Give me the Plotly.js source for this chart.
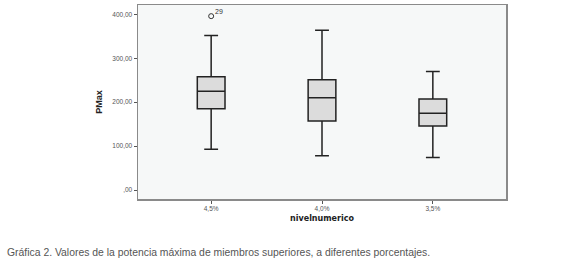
<!DOCTYPE html>
<html>
<head>
<meta charset="utf-8">
<script src="https://cdn.plot.ly/plotly-3.0.1.min.js"></script>
<style>html,body{margin:0;padding:0;background:#fff;}#chart{width:580px;height:262px;}</style>
</head>
<body>
<div id="chart"></div>
<script>
const categories = ["4,5%", "4,0%", "3,5%"];
const lowerWhisker = [93, 78, 74];
const q1Values = [185, 157, 146];
const medianValues = [225, 210, 175];
const q3Values = [258, 251, 207];
const upperWhisker = [352, 364, 270];
const outlierCategory = ["4,5%"];
const outlierValues = [396];
const outlierLabels = ["29"];
const yTickVals = [0, 100, 200, 300, 400];
const yTickText = [",00", "100,00", "200,00", "300,00", "400,00"];

const boxTrace = {
  type: "box",
  x: categories,
  q1: q1Values,
  median: medianValues,
  q3: q3Values,
  lowerfence: lowerWhisker,
  upperfence: upperWhisker,
  fillcolor: "#dcdcdc",
  line: {color: "#222", width: 1.5},
  width: 0.25,
  whiskerwidth: 0.5,
  boxpoints: false,
  hoverinfo: "none",
  showlegend: false
};

const outlierTrace = {
  type: "scatter",
  mode: "markers",
  x: outlierCategory,
  y: outlierValues,
  marker: {symbol: "circle-open", size: 5, color: "#333", line: {width: 1}},
  hoverinfo: "none",
  showlegend: false
};

const outlierAnnotations = outlierCategory.map((c, i) => ({
  text: outlierLabels[i],
  x: c, y: outlierValues[i],
  xref: "x", yref: "y",
  xanchor: "left", yanchor: "middle",
  xshift: 2, yshift: 5,
  showarrow: false,
  font: {family: "Liberation Sans, Arial, sans-serif", size: 7, color: "#333"}
}));

const layout = {
  width: 580,
  height: 262,
  margin: {l: 138, r: 74, t: 5, b: 63},
  paper_bgcolor: "#ffffff",
  plot_bgcolor: "#f6f8f8",
  showlegend: false,
  xaxis: {
    type: "category",
    range: [-0.66, 2.66],
    showgrid: false,
    zeroline: false,
    showline: true,
    mirror: true,
    linecolor: "#8a8a8a",
    linewidth: 1.5,
    ticks: "outside",
    ticklen: 3,
    tickcolor: "#555",
    tickfont: {family: "Liberation Sans, Arial, sans-serif", size: 6.5, color: "#555"},
    title: {text: "<b>nivelnumerico</b>", font: {family: "DejaVu Sans, sans-serif", size: 8, color: "#222"}, standoff: 4}
  },
  yaxis: {
    range: [-20.5, 421.4],
    tickvals: yTickVals,
    ticktext: yTickText,
    showgrid: false,
    zeroline: false,
    showline: true,
    mirror: true,
    linecolor: "#8a8a8a",
    linewidth: 1.5,
    ticks: "outside",
    ticklen: 3,
    tickcolor: "#555",
    tickfont: {family: "Liberation Sans, Arial, sans-serif", size: 6.5, color: "#555"},
    title: {text: "<b>PMax</b>", font: {family: "Liberation Sans, Arial, sans-serif", size: 9, color: "#222"}, standoff: 8}
  },
  annotations: outlierAnnotations.concat([{
    text: "Gráfica 2. Valores de la potencia máxima de miembros superiores, a diferentes porcentajes.",
    xref: "paper", yref: "paper",
    x: -0.361, y: -0.278,
    xanchor: "left", yanchor: "middle",
    showarrow: false,
    font: {family: "Liberation Sans Narrow, Arial Narrow, Liberation Sans, sans-serif", size: 10.4, color: "#555"}
  }])
};

Plotly.newPlot("chart", [boxTrace, outlierTrace], layout, {displayModeBar: false, staticPlot: true});
</script>
</body>
</html>
